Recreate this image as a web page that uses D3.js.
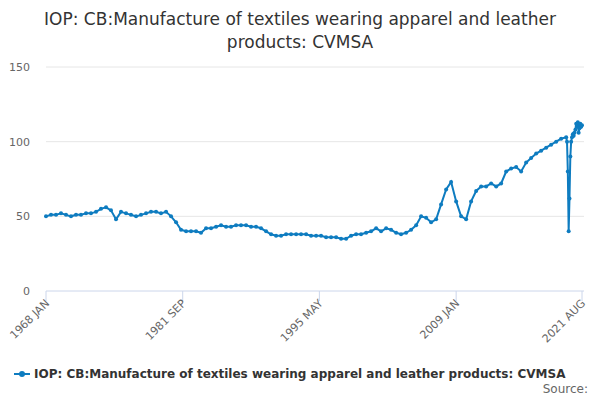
<!DOCTYPE html><html><head><meta charset="utf-8">
<script src="https://cdn.jsdelivr.net/npm/d3@7"></script>
<style>body{margin:0;background:#fff;font-family:"DejaVu Sans",sans-serif}</style></head><body>
<svg id="c" width="600" height="400" font-family="DejaVu Sans"></svg>
<script>
const dates=[];const values=[];
const halfYears=[[1968,50,51],[1969,51,52],[1970,51,50],[1971,51,51],[1972,52,52],[1973,53,55],[1974,56,54],[1975,48,53],[1976,52,51],[1977,50,51],[1978,52,53],[1979,53,52],[1980,53,50],[1981,46,41],[1982,40,40],[1983,40,39],[1984,42,42],[1985,43,44],[1986,43,43],[1987,44,44],[1988,44,43],[1989,43,42],[1990,40,38],[1991,37,37],[1992,38,38],[1993,38,38],[1994,38,37],[1995,37,37],[1996,36,36],[1997,36,35],[1998,35,37],[1999,38,38],[2000,39,40],[2001,42,40],[2002,42,41],[2003,39,38],[2004,39,41],[2005,44,50],[2006,49,46],[2007,48,58],[2008,68,73],[2009,60,50],[2010,48,60],[2011,67,70],[2012,70,72],[2013,70,72],[2014,80,82],[2015,83,80],[2016,86,89],[2017,92,94],[2018,96,98],[2019,100,102]];
const months2020=[103,100,80,40,62,90,100,103,105,104,106,108];
const months2021=[112,110,113,106,109,112,110,111];
halfYears.forEach(([y,a,b])=>{dates.push(new Date(y,0,1));values.push(a);dates.push(new Date(y,6,1));values.push(b);});
months2020.forEach((v,i)=>{dates.push(new Date(2020,i,1));values.push(v);});
months2021.forEach((v,i)=>{dates.push(new Date(2021,i,1));values.push(v);});
const tickLabels=["1968 JAN","1981 SEP","1995 MAY","2009 JAN","2021 AUG"];
const tickDates=[new Date(1968,0,1),new Date(1981,8,1),new Date(1995,4,1),new Date(2009,0,1),new Date(2021,7,1)];
const yTicks=[0,50,100,150];
const svg=d3.select("#c");
const x=d3.scaleTime().domain([new Date(1968,0,1),new Date(2021,7,1)]).range([46,582]);
const y=d3.scaleLinear().domain([0,150]).range([291,67]);
svg.append("text").attr("x",300).attr("y",25).attr("text-anchor","middle").attr("font-size",17).attr("fill","#333").text("IOP: CB:Manufacture of textiles wearing apparel and leather");
svg.append("text").attr("x",300).attr("y",48).attr("text-anchor","middle").attr("font-size",17).attr("fill","#333").text("products: CVMSA");
yTicks.forEach(t=>{
 svg.append("line").attr("x1",46).attr("x2",584).attr("y1",y(t)).attr("y2",y(t)).attr("stroke",t===0?"#ccd6eb":"#e6e6e6");
 svg.append("text").attr("x",30).attr("y",y(t)+4).attr("text-anchor","end").attr("font-size",11).attr("fill","#666").text(t);
});
tickDates.forEach((d,i)=>{
 const xx=x(d);
 svg.append("line").attr("x1",xx).attr("x2",xx).attr("y1",291).attr("y2",301).attr("stroke","#ccd6eb");
 svg.append("text").attr("transform",`translate(${xx+4},${304}) rotate(-45)`).attr("text-anchor","end").attr("font-size",11).attr("fill","#666").text(tickLabels[i]);
});
const data=dates.map((d,i)=>({d,v:values[i]}));
svg.append("path").datum(data).attr("fill","none").attr("stroke","#0e7cc0").attr("stroke-width",2)
 .attr("d",d3.line().x(p=>x(p.d)).y(p=>y(p.v)));
svg.selectAll("circle.p").data(data).join("circle").attr("cx",p=>x(p.d)).attr("cy",p=>y(p.v)).attr("r",2).attr("fill","#0e7cc0");
svg.append("line").attr("x1",14).attr("x2",30).attr("y1",374).attr("y2",374).attr("stroke","#0e7cc0").attr("stroke-width",2);
svg.append("circle").attr("cx",22).attr("cy",374).attr("r",3).attr("fill","#0e7cc0");
svg.append("text").attr("x",34).attr("y",378).attr("font-size",12).attr("font-weight","bold").attr("fill","#333").text("IOP: CB:Manufacture of textiles wearing apparel and leather products: CVMSA");
svg.append("text").attr("x",588).attr("y",393).attr("text-anchor","end").attr("font-size",12).attr("fill","#666").text("Source:");
</script></body></html>
